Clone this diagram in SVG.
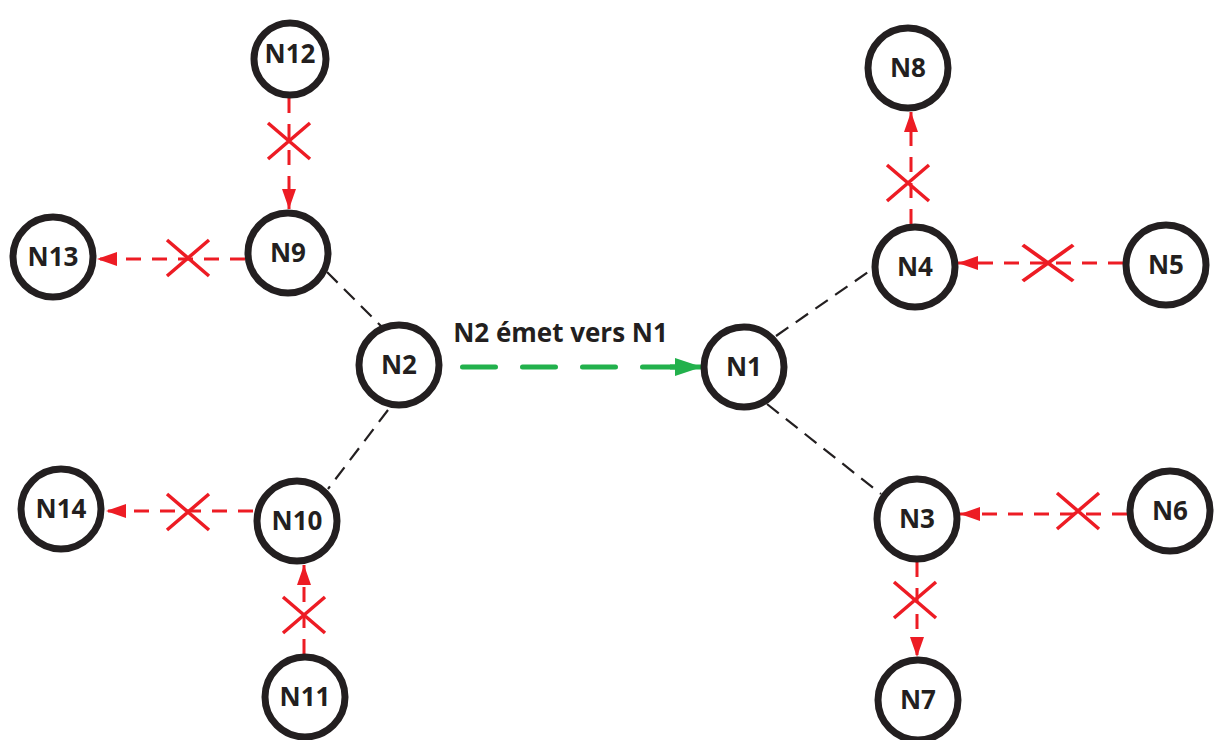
<svg xmlns="http://www.w3.org/2000/svg" xmlns:xlink="http://www.w3.org/1999/xlink" width="1214" height="740" viewBox="0 0 1214 740">
<style>
.node circle{fill:#ffffff;stroke:#231f20;stroke-width:7}
.node text{font-family:"Open Sans","Liberation Sans",sans-serif;font-weight:bold;font-size:26px;fill:#231f20;text-anchor:middle}
.link{stroke:#231f20;stroke-width:2.2;stroke-dasharray:15 9;fill:none}
.red{stroke:#ed1c24;stroke-width:3;stroke-dasharray:15 11;fill:none;marker-end:url(#ra)}
.cross{stroke:#ed1c24;stroke-width:3.5;fill:none}
.green{stroke:#22b14c;stroke-width:5;stroke-linecap:round;stroke-dasharray:33 27;fill:none}
.lbl{font-family:"Open Sans","Liberation Sans",sans-serif;font-weight:bold;font-size:26px;fill:#231f20;text-anchor:middle}
</style>
<defs>
<marker id="ra" markerUnits="userSpaceOnUse" markerWidth="20" markerHeight="14" viewBox="0 0 20 14" refX="20" refY="7" orient="auto"><path d="M0,0 L20,7 L0,14 z" fill="#ed1c24"/></marker>
<marker id="ga" markerUnits="userSpaceOnUse" markerWidth="27" markerHeight="18" viewBox="0 0 27 18" refX="27" refY="9" orient="auto"><path d="M0,0 L27,9 L0,18 z" fill="#22b14c"/></marker>
<path id="x" d="M-21,-18 L21,18 M-21,18 L21,-18"/>
</defs>
<g id="connectors">
<line class="link" x1="327" y1="272" x2="381" y2="326"/>
<line class="link" x1="388" y1="410" x2="328" y2="489"/>
<line class="link" x1="776" y1="336" x2="874" y2="268"/>
<line class="link" x1="767" y1="404" x2="881" y2="494"/>
<line class="red" x1="289" y1="98" x2="289" y2="209"/>
<line class="red" x1="245" y1="259" x2="97" y2="259"/>
<line class="red" x1="253" y1="511" x2="106" y2="511"/>
<line class="red" x1="304" y1="654" x2="304" y2="565"/>
<line class="red" x1="911" y1="224" x2="911" y2="112"/>
<line class="red" x1="1123" y1="263" x2="958" y2="263"/>
<line class="red" x1="1127" y1="514" x2="960" y2="514"/>
<line class="red" x1="917" y1="562" x2="917" y2="657"/>
<use href="#x" class="cross" transform="translate(289,141)"/>
<use href="#x" class="cross" transform="translate(188,258)"/>
<use href="#x" class="cross" transform="translate(188,512)"/>
<use href="#x" class="cross" transform="translate(304,615)"/>
<use href="#x" class="cross" transform="translate(908,183)"/>
<use href="#x" class="cross" transform="translate(1048,263) scale(1.2,1)"/>
<use href="#x" class="cross" transform="translate(1078,511)"/>
<use href="#x" class="cross" transform="translate(915,600)"/>
<line class="green" x1="462.5" y1="367" x2="678" y2="367"/>
<line x1="670" y1="367" x2="702" y2="367" stroke="#22b14c" stroke-width="5" marker-end="url(#ga)"/>
<text class="lbl" x="560.5" y="342">N2 émet vers N1</text>
</g>
<g id="N12" class="node"><circle cx="290" cy="59" r="36"/><text x="290" y="63">N12</text></g>
<g id="N9" class="node"><circle cx="288" cy="253" r="40"/><text x="288" y="262">N9</text></g>
<g id="N13" class="node"><circle cx="53" cy="257" r="40"/><text x="53" y="266">N13</text></g>
<g id="N2" class="node"><circle cx="399" cy="365" r="40"/><text x="399" y="374">N2</text></g>
<g id="N10" class="node"><circle cx="297" cy="521" r="40"/><text x="297" y="530">N10</text></g>
<g id="N14" class="node"><circle cx="61" cy="509" r="40"/><text x="61" y="518">N14</text></g>
<g id="N11" class="node"><circle cx="305" cy="697" r="40"/><text x="305" y="706">N11</text></g>
<g id="N1" class="node"><circle cx="744" cy="367" r="40"/><text x="744" y="376">N1</text></g>
<g id="N4" class="node"><circle cx="915" cy="267" r="40"/><text x="915" y="276">N4</text></g>
<g id="N8" class="node"><circle cx="908" cy="68" r="40"/><text x="908" y="77">N8</text></g>
<g id="N5" class="node"><circle cx="1166" cy="265" r="40"/><text x="1166" y="274">N5</text></g>
<g id="N3" class="node"><circle cx="917" cy="519" r="40"/><text x="917" y="528">N3</text></g>
<g id="N6" class="node"><circle cx="1170" cy="511" r="40"/><text x="1170" y="520">N6</text></g>
<g id="N7" class="node"><circle cx="918" cy="700" r="40"/><text x="918" y="709">N7</text></g>
</svg>
